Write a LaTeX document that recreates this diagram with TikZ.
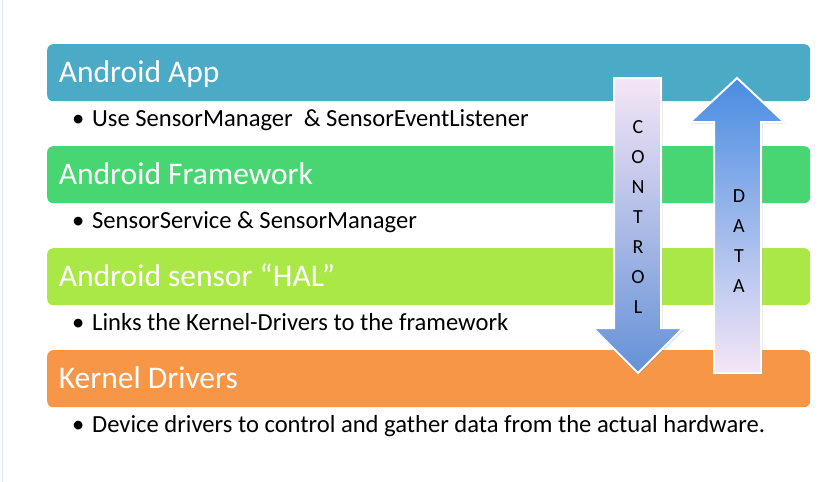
\documentclass[tikz,border=0pt]{standalone}
\usepackage{fontspec}
\setmainfont{Carlito}
\usetikzlibrary{shadows}
\definecolor{cApp}{RGB}{75,170,198}
\definecolor{cFw}{RGB}{72,214,114}
\definecolor{cHal}{RGB}{170,232,72}
\definecolor{cKer}{RGB}{246,150,70}
\definecolor{cPale}{RGB}{245,230,246}
\definecolor{cMid}{RGB}{135,188,252}
\definecolor{cDeep}{RGB}{100,145,215}
\definecolor{cTip}{RGB}{72,140,225}
\definecolor{cEdge}{RGB}{225,228,245}
\begin{document}
\begin{tikzpicture}[x=1pt,y=-1pt,
  bar/.style={rounded corners=6pt, minimum width=763pt, minimum height=57pt, inner sep=0pt, anchor=north west, draw=none},
  title/.style={anchor=base west, text=white, font=\fontsize{31.5}{36}\selectfont, inner sep=0pt},
  bullet/.style={anchor=base west, text=black, font=\fontsize{24.6}{29}\selectfont, inner sep=0pt},
  arrowtxt/.style={align=center, text=black, font=\fontsize{20}{30}\selectfont, inner sep=0pt},
  bigarrow/.style={draw=white, line width=2pt, line join=miter,
    drop shadow={opacity=0.25, shadow xshift=1.5pt, shadow yshift=-1.5pt}}
]
\useasboundingbox (0,0) rectangle (831,482);
\fill[white] (0,0) rectangle (831,482);
\draw[cEdge, line width=1.2pt] (2.5,0) -- (2.5,482);

% layer bars
\node[bar, fill=cApp] (app) at (47,44) {};
\node[bar, fill=cFw]  (fw)  at (47,146) {};
\node[bar, fill=cHal] (hal) at (47,248) {};
\node[bar, fill=cKer] (ker) at (47,350) {};

% titles
\node[title] (appT) at (58.7,82.3) {Android App};
\node[title] (fwT)  at (58.7,184.3) {Android Framework};
\node[title] (halT) at (58.7,286.3) {Android sensor “HAL”};
\node[title] (kerT) at (58.7,388.3) {Kernel Drivers};

% bullets
\node[bullet] (appD) at (72,126.7) {•};
\node[bullet] (appB) at (92,126.7) {Use SensorManager\ \ \& SensorEventListener};
\node[bullet] (fwD)  at (72,228.7) {•};
\node[bullet] (fwB)  at (92,228.7) {SensorService \& SensorManager};
\node[bullet] (halD) at (72,330.7) {•};
\node[bullet] (halB) at (92,330.7) {Links the Kernel-Drivers to the framework};
\node[bullet] (kerD) at (72,432.7) {•};
\node[bullet] (kerB) at (92,432.7) {Device drivers to control and gather data from the actual hardware.};

% CONTROL arrow (down)
\path[bigarrow, top color=cPale, middle color=cMid, bottom color=cDeep]
  (614,78) -- (661,78) -- (661,328) -- (683,328) -- (638,373) -- (593,328) -- (614,328) -- cycle;
% DATA arrow (up)
\path[bigarrow, top color=cTip, middle color=cMid, bottom color=cPale]
  (737,78) -- (784,122) -- (761,122) -- (761,373) -- (714,373) -- (714,122) -- (690,122) -- cycle;

\node[arrowtxt] (ctl) at (638,217) {C\\O\\N\\T\\R\\O\\L};
\node[arrowtxt] (dat) at (739,241) {D\\A\\T\\A};
\end{tikzpicture}
\end{document}
